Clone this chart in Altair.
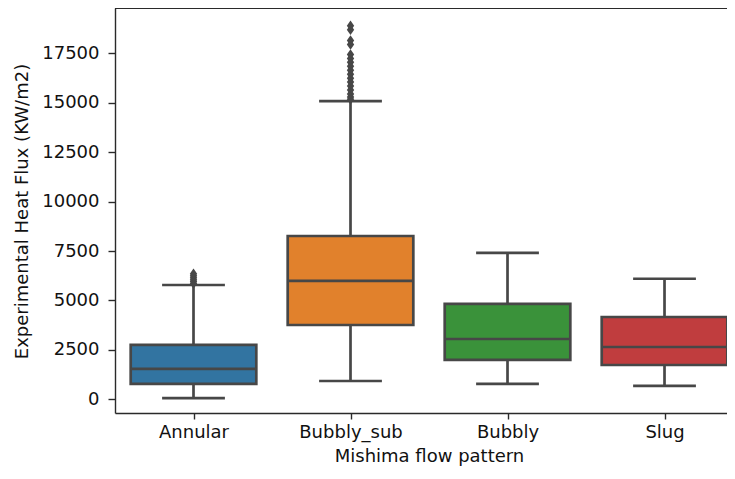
import altair as alt
import pandas as pd

categories = ["Annular", "Bubbly_sub", "Bubbly", "Slug"]
colors = ["#3274a1", "#e1812c", "#3a923a", "#c03d3e"]
whisker_low = [50, 920, 770, 670]
q1 = [770, 3755, 1985, 1730]
median = [1530, 5985, 3045, 2640]
q3 = [2745, 8260, 4820, 4160]
whisker_high = [5780, 15090, 7410, 6095]
annular_outliers = [5850, 5950, 6050, 6150, 6250, 6350]
bubbly_sub_outliers = [18900, 18700, 18150, 17950, 17450, 17250, 17050, 16850,
                       16650, 16450, 16250, 16050, 15850, 15650, 15450, 15300, 15180]
y_ticks = [0, 2500, 5000, 7500, 10000, 12500, 15000, 17500]

LINE = "#474747"
SPINE = "#2a2a2a"
FONT = "DejaVu Sans"
LW = 2.7
W, H = 612, 405

stats = pd.DataFrame({
    "category": categories,
    "pos": list(range(len(categories))),
    "whisker_low": whisker_low,
    "q1": q1,
    "median": median,
    "q3": q3,
    "whisker_high": whisker_high,
})
outliers = pd.DataFrame({
    "category": ["Annular"] * len(annular_outliers) + ["Bubbly_sub"] * len(bubbly_sub_outliers),
    "value": annular_outliers + bubbly_sub_outliers,
})
outliers["pos"] = outliers["category"].map({c: i for i, c in enumerate(categories)})

xscale = alt.Scale(domain=[-0.5, 3.398], nice=False, zero=False)
yscale = alt.Scale(domain=[-700, 19800], nice=False, zero=False)

label_expr = "[" + ",".join("'%s'" % c for c in categories) + "][datum.value]"
xaxis = alt.Axis(values=[0, 1, 2, 3], labelExpr=label_expr, title="Mishima flow pattern",
                 grid=False, domain=True, domainColor=SPINE, domainWidth=1.4,
                 tickSize=6, tickWidth=1.4, tickColor=SPINE,
                 labelFont=FONT, labelFontSize=18, labelColor="#111", labelPadding=4,
                 titleFont=FONT, titleFontSize=18, titleFontWeight="normal", titleColor="#111",
                 titleX=314, titleY=48, titleBaseline="alphabetic", titleAlign="center")
yaxis = alt.Axis(values=y_ticks, format="d", title="Experimental Heat Flux (KW/m2)",
                 grid=False, domain=True, domainColor=SPINE, domainWidth=1.4,
                 tickSize=7, tickWidth=1.4, tickColor=SPINE,
                 labelFont=FONT, labelFontSize=18, labelColor="#111", labelPadding=9,
                 titleFont=FONT, titleFontSize=18, titleFontWeight="normal", titleColor="#111",
                 titleX=-88, titleY=203, titleAngle=-90, titleBaseline="alphabetic",
                 titleAlign="center")


def X(field):
    return alt.X(field + ":Q", scale=xscale, axis=xaxis)


def Y(field):
    return alt.Y(field + ":Q", scale=yscale, axis=yaxis)


base = alt.Chart(stats).transform_calculate(
    box_l="datum.pos - 0.4", box_r="datum.pos + 0.4",
    cap_l="datum.pos - 0.2", cap_r="datum.pos + 0.2",
)

whisk_lo = base.mark_rule(color=LINE, strokeWidth=LW).encode(x=X("pos"), y=Y("whisker_low"), y2="q1:Q")
whisk_hi = base.mark_rule(color=LINE, strokeWidth=LW).encode(x=X("pos"), y=Y("q3"), y2="whisker_high:Q")
cap_lo = base.mark_rule(color=LINE, strokeWidth=LW).encode(x=X("cap_l"), x2="cap_r:Q", y=Y("whisker_low"))
cap_hi = base.mark_rule(color=LINE, strokeWidth=LW).encode(x=X("cap_l"), x2="cap_r:Q", y=Y("whisker_high"))
boxes = base.mark_bar(stroke=LINE, strokeWidth=LW, opacity=1, clip=True).encode(
    x=X("box_l"), x2="box_r:Q", y=Y("q1"), y2="q3:Q",
    color=alt.Color("category:N", scale=alt.Scale(domain=categories, range=colors), legend=None),
)
med = base.mark_rule(color=LINE, strokeWidth=LW, clip=True).encode(x=X("box_l"), x2="box_r:Q", y=Y("median"))

flier = alt.Chart(outliers).mark_point(
    shape="M0,-1L0.7,0L0,1L-0.7,0Z", filled=True, size=110, color=LINE, opacity=1
).encode(x=X("pos"), y=Y("value"))

top_spine = alt.Chart(stats).mark_rule(color=SPINE, strokeWidth=1.4).encode(
    x=alt.value(0), x2=alt.value(W), y=alt.value(0)
)

chart = alt.layer(whisk_lo, whisk_hi, boxes, med, cap_lo, cap_hi, flier, top_spine).properties(
    width=W, height=H,
    autosize=alt.AutoSizeParams(type="none"),
    padding={"left": 107, "top": 0, "right": 0, "bottom": 53},
    background="white",
).configure_view(stroke=None)

chart.save("out.html", embed_options={"renderer": "svg", "actions": False})
